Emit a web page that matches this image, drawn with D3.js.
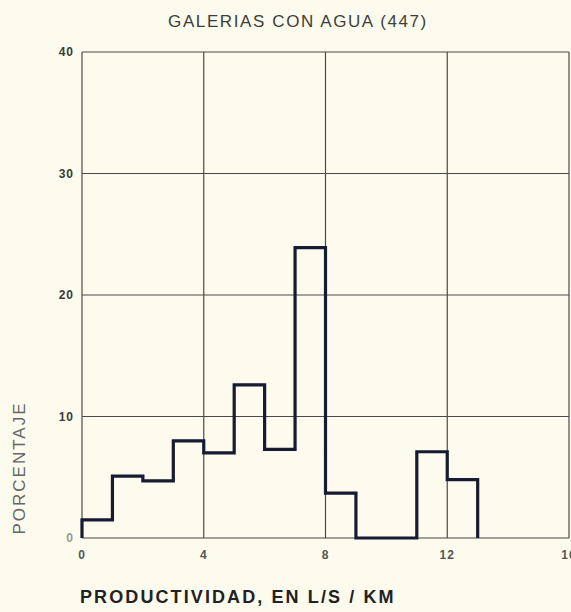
<!DOCTYPE html>
<html>
<head>
<meta charset="utf-8">
<script src="https://cdn.jsdelivr.net/npm/d3@7"></script>
<style>
  body { margin: 0; background: #fcfbed; }
  svg { display: block; }
</style>
</head>
<body>
<svg id="chart"></svg>
<script>
// bins of 1 L/s/km, value = percentage of galleries
const binStarts = [0, 1, 2, 3, 4, 5, 6, 7, 8, 9, 10, 11, 12];
const percents = [1.5, 5.1, 4.7, 8.0, 7.0, 12.6, 7.3, 23.9, 3.7, 0, 0, 7.1, 4.8];
const xTicks = [0, 4, 8, 12, 16];
const yTicks = [0, 10, 20, 30, 40];
const titleText = "GALERIAS CON AGUA (447)";
const xLabel = "PRODUCTIVIDAD, EN L/S / KM";
const yLabel = "PORCENTAJE";

let width = 571, height = 612;
let margin = {top: 52, right: 2, bottom: 74, left: 82};

let svg = d3.select("#chart")
    .attr("width", width)
    .attr("height", height);

let xScale = d3.scaleLinear()
    .domain([0, 16])
    .range([margin.left, width - margin.right]);

let yScale = d3.scaleLinear()
    .domain([0, 40])
    .range([height - margin.bottom, margin.top]);

// grid
let grid = svg.append("g").attr("stroke", "#4a4a48").attr("stroke-width", 1.2);
grid.selectAll(".v")
    .data(xTicks)
    .join("line")
    .attr("x1", d => xScale(d)).attr("x2", d => xScale(d))
    .attr("y1", yScale(0)).attr("y2", yScale(40));
grid.selectAll(".h")
    .data(yTicks)
    .join("line")
    .attr("x1", xScale(0)).attr("x2", xScale(16))
    .attr("y1", d => yScale(d)).attr("y2", d => yScale(d));

// y tick labels
svg.append("g")
    .attr("font-family", "Liberation Sans, Arial, sans-serif")
    .attr("font-size", 12)
    .attr("font-weight", "bold")
    .selectAll("text")
    .data(yTicks)
    .join("text")
    .attr("x", xScale(0) - 8)
    .attr("y", d => yScale(d) + 4)
    .attr("text-anchor", "end")
    .attr("letter-spacing", 1)
    .attr("fill", d => d === 0 ? "#999" : "#3a3a3a")
    .text(d => d);

// x tick labels
svg.append("g")
    .attr("font-family", "Liberation Sans, Arial, sans-serif")
    .attr("font-size", 12)
    .attr("font-weight", "bold")
    .attr("fill", "#555")
    .selectAll("text")
    .data(xTicks)
    .join("text")
    .attr("x", d => xScale(d))
    .attr("y", yScale(0) + 21)
    .attr("text-anchor", "middle")
    .attr("letter-spacing", 1)
    .text(d => d);

// histogram outline
let pts = [[0, 0]];
binStarts.forEach((b, i) => {
    pts.push([b, percents[i]]);
    pts.push([b + 1, percents[i]]);
});
pts.push([binStarts[binStarts.length - 1] + 1, 0]);

let line = d3.line()
    .x(d => xScale(d[0]))
    .y(d => yScale(d[1]));

svg.append("path")
    .datum(pts)
    .attr("d", line)
    .attr("fill", "none")
    .attr("stroke", "#161a33")
    .attr("stroke-width", 3.2)
    .attr("stroke-linejoin", "miter");

// title
svg.append("text")
    .attr("x", 298)
    .attr("y", 27)
    .attr("text-anchor", "middle")
    .attr("font-family", "Liberation Sans, Arial, sans-serif")
    .attr("font-size", 17)
    .attr("letter-spacing", 1.6)
    .attr("fill", "#3d3d3d")
    .text(titleText);

// x label
svg.append("text")
    .attr("x", 80)
    .attr("y", 603)
    .attr("font-family", "Liberation Sans, Arial, sans-serif")
    .attr("font-size", 18)
    .attr("font-weight", "bold")
    .attr("letter-spacing", 2.1)
    .attr("fill", "#222")
    .text(xLabel);

// y label
svg.append("text")
    .attr("transform", `translate(25, 468) rotate(-90)`)
    .attr("text-anchor", "middle")
    .attr("font-family", "Liberation Sans, Arial, sans-serif")
    .attr("font-size", 17)
    .attr("letter-spacing", 2)
    .attr("fill", "#666")
    .text(yLabel);
</script>
</body>
</html>
